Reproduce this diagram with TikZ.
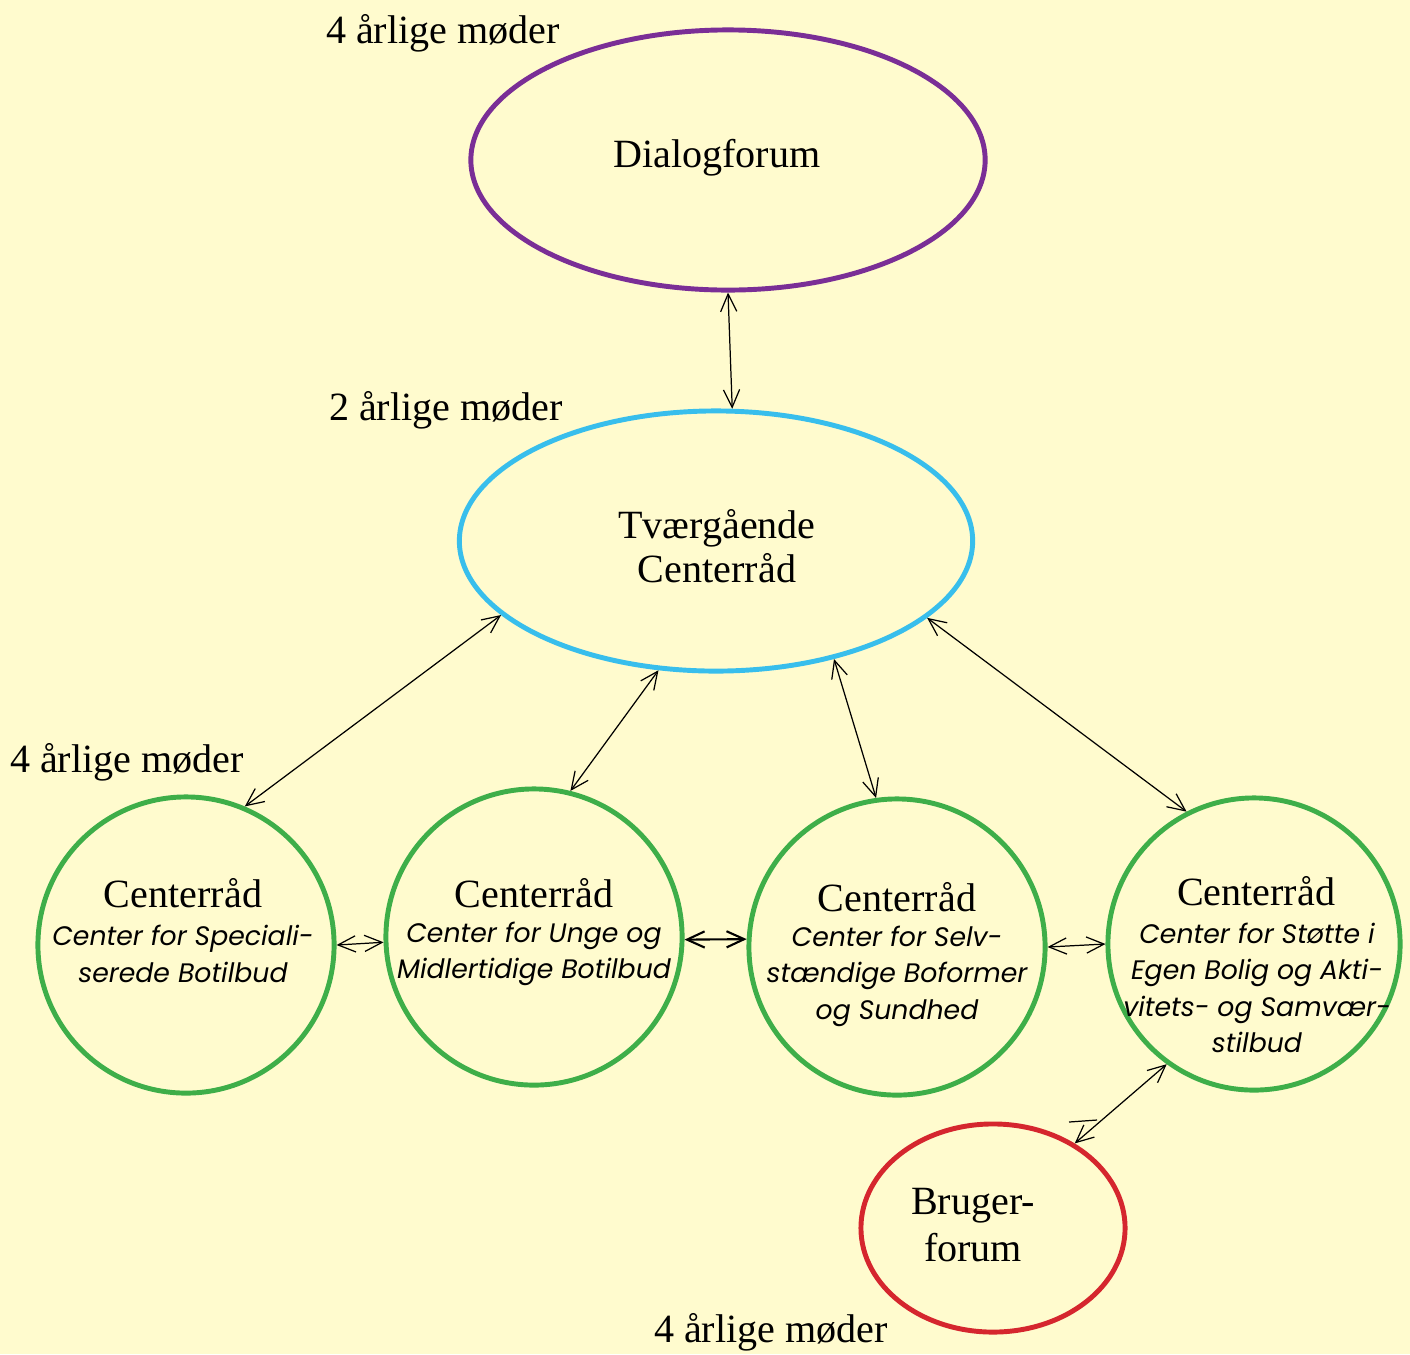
\documentclass[tikz,border=0pt]{standalone}
\usepackage{fontspec}
\setmainfont{Liberation Serif}
\newfontfamily\subfont{Poppins}
\usetikzlibrary{shapes.geometric,arrows.meta}

\definecolor{bgyellow}{RGB}{255,251,206}
\definecolor{dialogpurple}{RGB}{122,46,150}
\definecolor{tvaercyan}{RGB}{56,190,236}
\definecolor{centergreen}{RGB}{62,174,73}
\definecolor{brugerred}{RGB}{213,38,46}

\tikzset{
  forum/.style={ellipse, draw, line width=1.4pt},
  raad/.style={circle, draw=centergreen, line width=1.4pt, minimum size=2.96cm},
  head/.style={font=\fontsize{11.4}{12.5}\selectfont, align=center},
  sub/.style={font=\subfont\itshape\fontsize{7.6}{10.4}\selectfont, align=center},
  link/.style={<->, line width=0.35pt},
}

\begin{document}
\begin{tikzpicture}[x=0.01cm, y=-0.01cm, >={Straight Barb[length=5pt,width=4.6pt]}]
  \fill[bgyellow] (0,0) rectangle (1410,1354);
  \useasboundingbox (0,0) rectangle (1410,1354);

  % fora
  \node[forum, draw=dialogpurple, minimum width=5.14cm, minimum height=2.6cm] (dialog) at (728,160) {};
  \node[forum, draw=tvaercyan, minimum width=5.13cm, minimum height=2.6cm] (tvaer) at (716,541) {};
  \node[forum, draw=brugerred, minimum width=2.64cm, minimum height=2.08cm] (bruger) at (993,1228) {};

  \node[head] (dialogtxt) at (717,158) {Dialogforum};
  \node[head] (tvaertxt) at (717,546) {Tværgående\\Centerråd};
  \node[head, font=\fontsize{11.4}{13.3}\selectfont] (brugertxt) at (973,1225) {Bruger-\\forum};

  % centerraad
  \node[raad] (c1) at (186,945) {};
  \node[raad] (c2) at (534,937) {};
  \node[raad] (c3) at (897,947) {};
  \node[raad, minimum size=2.92cm] (c4) at (1254,944) {};

  \node[head] (h1) at (183,893) {Centerråd};
  \node[head] (h2) at (534,893) {Centerråd};
  \node[head] (h3) at (897,897) {Centerråd};
  \node[head] (h4) at (1256,891) {Centerråd};

  \node[sub] (s1) at (183,954) {Center for Speciali-\\serede Botilbud};
  \node[sub] (s2) at (534,954) {Center for Unge og\\Midlertidige Botilbud};
  \node[sub] (s3) at (897,976) {Center for Selv-\\stændige Boformer\\og Sundhed};
  \node[sub] (s4) at (1257,988) {Center for Støtte i\\Egen Bolig og Akti-\\vitets- og Samvær-\\stilbud};

  % moeder
  \node[head] (m1) at (443,33) {4 årlige møder};
  \node[head] (m2) at (446,410) {2 årlige møder};
  \node[head] (m3) at (127,762) {4 årlige møder};
  \node[head] (m4) at (771,1332) {4 årlige møder};

  % forbindelser
  \draw[link] (dialog.south) -- (tvaer.83.5);
  \draw[link] (tvaer.199.5) -- (c1.67.5);
  \draw[link] (tvaer.246.5) -- (c2.76.9);
  \draw[link] (tvaer.-45) -- (c3.98.7);
  \draw[link] (tvaer.-20) -- (c4.117.3);
  \draw[link] (c1.east) -- (c2.182.7);
  \draw[link, line width=0.6pt] (c2.-1) -- (c3.177);
  \draw[link] (c3.0.8) -- (c4.180);
  \draw[link] (bruger.46.4) -- (c4.234.8);
  \draw[line width=0.35pt] (1069,1122) -- (1097,1120);
\end{tikzpicture}
\end{document}
